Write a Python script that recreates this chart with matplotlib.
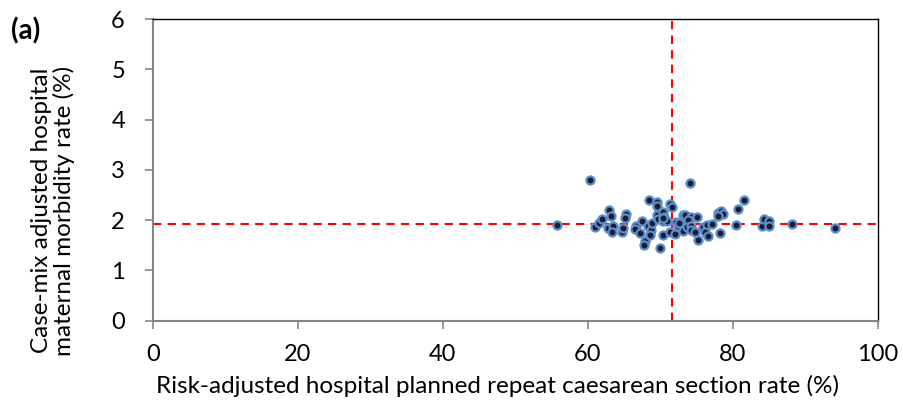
import matplotlib
matplotlib.use("Agg")
import matplotlib.pyplot as plt

# Hospital-level risk-adjusted planned repeat CS rate (%) and case-mix adjusted morbidity (%)
cs_rate = [
    60.3, 55.8, 61.0, 61.6, 62.0, 62.9, 63.2, 62.8, 63.5, 63.3,
    64.7, 64.9, 65.3, 65.2, 66.7, 66.5, 67.2, 67.5, 67.9, 67.7,
    68.5, 68.3, 68.7, 68.6, 68.9, 69.5, 69.6, 69.5, 69.7, 70.0,
    70.4, 70.5, 70.4, 70.4, 70.9, 71.3, 71.4, 71.6, 72.2, 72.5,
    72.6, 73.2, 73.2, 74.1, 73.4, 74.2, 75.0, 73.8, 73.7, 74.3,
    74.2, 74.8, 75.2, 75.9, 76.4, 76.2, 76.6, 77.1, 78.0, 78.4,
    78.7, 77.9, 78.3, 80.7, 81.6, 80.5, 84.0, 84.3, 85.0, 85.0,
    88.2, 94.1, 72.0, 70.4,
]
morbidity = [
    2.80, 1.90, 1.87, 1.94, 2.02, 2.20, 2.09, 1.84, 1.89, 1.77,
    1.77, 1.84, 2.12, 2.05, 1.88, 1.82, 1.74, 1.99, 1.59, 1.50,
    2.40, 1.89, 1.80, 1.70, 1.95, 2.37, 2.29, 2.10, 2.02, 1.44,
    2.17, 2.07, 1.98, 1.70, 1.99, 1.77, 2.32, 2.27, 1.97, 1.88,
    1.94, 2.10, 1.79, 2.73, 2.10, 2.07, 2.07, 2.00, 1.87, 1.88,
    1.80, 1.77, 1.60, 1.86, 1.90, 1.77, 1.68, 1.92, 2.15, 2.19,
    2.12, 2.08, 1.75, 2.23, 2.40, 1.90, 1.88, 2.02, 1.98, 1.88,
    1.92, 1.85, 1.72, 2.05,
]

# Reference lines: median CS rate and overall morbidity rate
median_cs = 71.6
overall_morbidity = 1.93

x_ticks = [0, 20, 40, 60, 80, 100]
y_ticks = [0, 1, 2, 3, 4, 5, 6]

plt.rcParams['font.family'] = ['Lato', 'DejaVu Sans']

fig = plt.figure(figsize=(9.04, 4.07), dpi=100)
ax = fig.add_axes([0.169, 0.212, 0.802, 0.741])

ax.axvline(median_cs, color='#FF0000', linestyle=(0, (4, 3)), linewidth=1.5, zorder=1)
ax.axhline(overall_morbidity, color='#FF0000', linestyle=(0, (4, 3)), linewidth=1.5, zorder=1)

ax.scatter(cs_rate, morbidity, s=34, facecolor='#1C1C30', edgecolor='#5B8DCB',
           linewidth=1.6, zorder=3)

ax.set_xlim(0, 100)
ax.set_ylim(0, 6)
ax.set_xticks(x_ticks)
ax.set_yticks(y_ticks)

for side in ('left', 'bottom'):
    ax.spines[side].set_color('#868686')
    ax.spines[side].set_linewidth(1.5)
for side in ('top', 'right'):
    ax.spines[side].set_color('#000000')
    ax.spines[side].set_linewidth(1.0)

ax.tick_params(axis='both', direction='out', length=6, width=1.2, color='#868686',
               labelsize=17, labelcolor='#000000')
ax.tick_params(axis='x', pad=11)
ax.tick_params(axis='y', pad=14)

ax.set_xlabel('Risk-adjusted hospital planned repeat caesarean section rate (%)',
              fontsize=17.5)
ax.xaxis.set_label_coords(0.476, -0.18)
ax.set_ylabel('Case-mix adjusted hospital\nmaternal morbidity rate (%)',
              fontsize=17.5, linespacing=1.05)
ax.yaxis.set_label_coords(-0.107, 0.365)

fig.text(0.012, 0.958, '(a)', fontsize=20, fontweight='bold', va='top')

fig.savefig('out.png', dpi=100)
